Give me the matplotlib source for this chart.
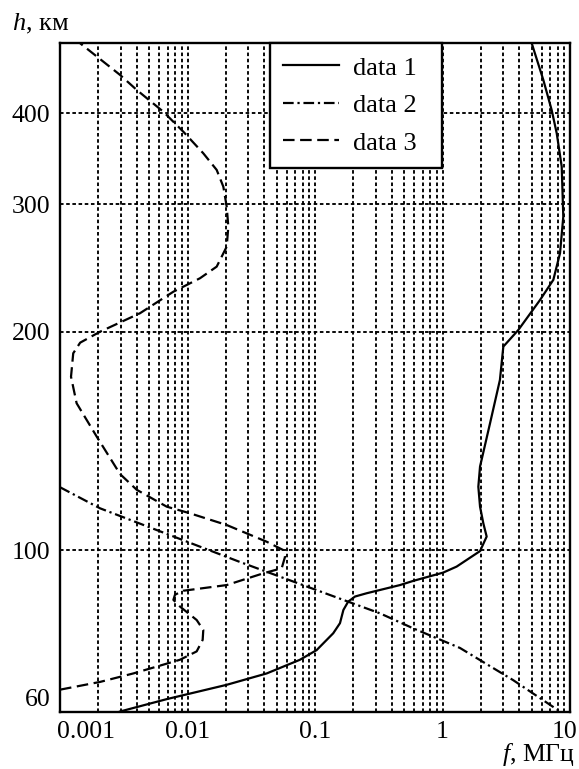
import numpy as np
import matplotlib
matplotlib.use("Agg")
import matplotlib.pyplot as plt
import matplotlib.transforms as mtransforms
from matplotlib.ticker import FixedLocator, NullLocator

plt.rcParams['font.family'] = ['Liberation Serif', 'DejaVu Serif']
plt.rcParams['mathtext.fontset'] = 'custom'
plt.rcParams['mathtext.rm'] = 'Liberation Serif'
plt.rcParams['mathtext.it'] = 'Liberation Serif:italic'

# Profile 1 (solid): frequency, MHz, vs height, km
f1 = [0.00296, 0.00687, 0.0203, 0.0418, 0.0762, 0.103, 0.139, 0.157, 0.167,
      0.182, 0.206, 0.254, 0.464, 0.590, 1.01, 1.29, 1.97, 2.22, 2.09, 1.97,
      1.91, 1.97, 2.36, 2.82, 3.00, 3.93, 5.82, 7.40, 8.35, 8.86, 8.61, 7.87,
      7.18, 6.18, 5.01]
h1 = [60.0, 62.4, 65.3, 67.7, 70.7, 72.9, 76.9, 79.4, 82.8, 85.0, 86.4, 87.3,
      89.6, 90.8, 93.2, 95.0, 99.8, 104.5, 109.0, 114.9, 122.4, 130.5, 149.7,
      171.7, 190.9, 201.2, 221.3, 235.9, 256.7, 288.2, 337.8, 375.4, 404.3,
      444.6, 499.5]

# Profile 2 (dash-dot)
f2 = [0.001, 0.00206, 0.0258, 0.324, 0.590, 1.37, 3.57, 8.35]
h2 = [122.2, 114.3, 96.4, 81.9, 78.1, 73.4, 66.3, 60.0]

# Profile 3 (dashed)
f3 = [0.001, 0.00206, 0.00376, 0.00873, 0.0118, 0.01315, 0.0133, 0.0118,
      0.00873, 0.00775, 0.00798, 0.00927, 0.0203, 0.0393, 0.0548, 0.0582,
      0.0565, 0.0418, 0.0203, 0.01046, 0.00687, 0.0040, 0.00296, 0.00194,
      0.00135, 0.00122, 0.00127, 0.00144, 0.00206, 0.00424, 0.00775, 0.01253,
      0.01694, 0.0203, 0.0209, 0.0203, 0.0191, 0.01694, 0.0133, 0.00927,
      0.00646, 0.00400, 0.00296, 0.00144]
h3 = [64.3, 65.9, 67.7, 70.7, 72.6, 75.3, 77.7, 80.2, 83.7, 85.5, 86.9, 88.0,
      89.6, 93.0, 94.5, 98.0, 100.1, 102.8, 108.4, 112.5, 114.9, 121.2, 127.4,
      143.5, 159.5, 173.5, 186.9, 193.3, 200.1, 212.2, 227.2, 237.1, 246.0,
      262.1, 279.3, 297.5, 317.0, 334.3, 352.4, 377.4, 402.1, 430.8, 451.8,
      499.5]

series_labels = ['data 1', 'data 2', 'data 3']

x_ticks = [0.001, 0.01, 0.1, 1, 10]
x_tick_labels = ['0.001', '0.01', '0.1', '1', '10']
y_ticks = [60, 100, 200, 300, 400]
y_tick_labels = ['60', '100', '200', '300', '400']
x_limits = (0.001, 10)
y_limits = (60, 500)

W, H, DPI = 579, 769, 100
fig = plt.figure(figsize=(W / DPI, H / DPI), dpi=DPI)
ax = fig.add_axes([60 / W, 1 - 711.5 / H, 510 / W, 668.5 / H])
ax.set_xscale('log')
ax.set_yscale('log')
ax.set_xlim(*x_limits)
ax.set_ylim(*y_limits)

lw = 1.6
ax.plot(f1, h1, color='black', lw=lw, label=series_labels[0])
ax.plot(f2, h2, color='black', lw=lw, dashes=[4.8, 1.7, 1, 1.7],
        label=series_labels[1])
ax.plot(f3, h3, color='black', lw=lw, dashes=[5.2, 2.5],
        label=series_labels[2])

# Grid: every decade subdivision vertically, labelled heights horizontally
grid_style = dict(color='black', lw=1.35, dashes=[1.9, 1.4], zorder=0.5)
for dec in range(-3, 1 + 1):
    for m in range(1, 10):
        v = m * 10.0 ** dec
        if x_limits[0] < v < x_limits[1]:
            ax.axvline(v, **grid_style)
for v in y_ticks[1:]:
    ax.axhline(v, **grid_style)

ax.xaxis.set_major_locator(FixedLocator(x_ticks))
ax.xaxis.set_minor_locator(NullLocator())
ax.set_xticklabels(x_tick_labels)
ax.yaxis.set_major_locator(FixedLocator(y_ticks))
ax.yaxis.set_minor_locator(NullLocator())
ax.set_yticklabels(y_tick_labels)
ax.tick_params(axis='both', which='both', length=0, labelsize=18.5)
ax.tick_params(axis='x', pad=6.5)
ax.tick_params(axis='y', pad=7)

for s in ax.spines.values():
    s.set_linewidth(1.7)
    s.set_zorder(3)

fig.canvas.draw()
# keep the end labels inside the frame width
xl = ax.get_xticklabels()
xl[0].set_horizontalalignment('left')
xl[0].set_transform(xl[0].get_transform() +
                    mtransforms.ScaledTranslation(-3 / DPI, 0, fig.dpi_scale_trans))
xl[-1].set_horizontalalignment('right')
xl[-1].set_transform(xl[-1].get_transform() +
                     mtransforms.ScaledTranslation(7 / DPI, 0, fig.dpi_scale_trans))
yl = ax.get_yticklabels()
yl[0].set_transform(yl[0].get_transform() +
                    mtransforms.ScaledTranslation(0, 14.5 / DPI, fig.dpi_scale_trans))

leg = ax.legend(loc='upper left', bbox_to_anchor=(210 / 510, 0, 172 / 510, 1.0),
                mode='expand', borderaxespad=0, fontsize=19, handlelength=2.1,
                handletextpad=0.55, labelspacing=0.53, borderpad=0.5,
                fancybox=False, framealpha=1, edgecolor='black')
leg.get_frame().set_linewidth(1.7)
leg.set_zorder(4)

fig.text(12 / W, 1 - 30 / H, '$h$, км', fontsize=19, ha='left',
         va='baseline')
fig.text(575 / W, 1 - 761 / H, '$f$, МГц', fontsize=18.5, ha='right',
         va='baseline')

fig.savefig('out.png', dpi=DPI)
